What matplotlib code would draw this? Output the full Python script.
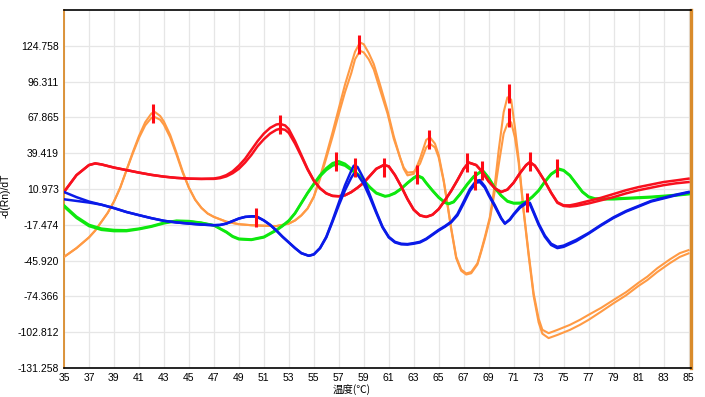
import matplotlib.pyplot as plt

# melt curve derivative, four samples, two replicates each
red_x = [35, 36, 37, 37.5, 38, 39, 40, 41, 42, 43, 44, 45, 46, 47, 47.5, 48, 48.5, 49, 49.5, 50,
         50.5, 51, 51.5, 52, 52.3, 52.7, 53, 53.5, 54, 54.5, 55, 55.5, 56, 56.5, 57, 57.5, 58, 58.5,
         59, 59.5, 60, 60.6, 61, 61.5, 62, 62.5, 63, 63.5, 64, 64.5, 65, 65.5, 66, 66.5, 67, 67.4,
         68, 68.5, 69, 69.5, 70, 70.5, 71, 71.5, 72, 72.3, 72.7, 73, 73.5, 74, 74.5, 75, 75.5, 76,
         77, 78, 79, 80, 81, 82, 83, 84, 85]
red_a = [8.6, 22, 30, 31.3, 30.5, 28, 26, 24, 22.2, 20.8, 19.8, 19.2, 19.0, 19.3, 20.2, 22, 25, 29.5, 35, 42,
         49, 55, 59.5, 62.2, 62.7, 61.5, 58.5, 49, 38, 27, 17.8, 11.5, 7.5, 5.5, 5.2, 6, 8.5, 12,
         16, 21.5, 27, 30, 29, 22, 13, 3, -5.5, -10, -11.2, -9.5, -5, 2, 9.5, 18, 27, 32,
         30, 24.5, 17, 11.5, 8.6, 10.5, 16, 23.5, 30, 32.3, 29.5, 25, 17, 8, 0.5, -2, -2, -1,
         1.5, 4, 7, 10, 12.5, 14.5, 16.5, 17.8, 19.2]
red_b = [8.6, 22, 30, 31.3, 30.5, 28, 26, 24, 22.2, 20.8, 19.8, 19.2, 19.0, 19.0, 19.6, 21, 23.5, 27, 32, 38,
         45, 50.5, 55, 58, 58.8, 58, 55.5, 47, 37, 26.5, 17.5, 11.5, 7.5, 5.5, 5.2, 6, 8.5, 12,
         16, 21.5, 27, 30, 29, 22, 13, 3, -5.5, -10, -11.2, -9.5, -5, 2, 9.5, 18, 27, 32,
         30, 24.5, 17, 11.5, 8.6, 10.5, 16, 23.5, 30, 32.3, 29.5, 25, 17, 8, 0, -2.5, -3, -2.5,
         -0.5, 2, 4.5, 7.5, 10, 12, 14, 15.5, 16.5]

blue_x = [35, 36, 37, 38, 39, 40, 41, 42, 43, 44, 45, 46, 47, 47.5, 48, 48.5, 49, 49.5, 50, 50.4,
          51, 51.5, 52, 52.5, 53, 53.5, 54, 54.6, 55, 55.5, 56, 56.5, 57, 57.5, 58, 58.2, 58.5, 59,
          59.5, 60, 60.5, 61, 61.5, 62, 62.5, 63, 63.5, 64, 64.5, 65, 65.5, 66, 66.5, 67, 67.5, 68,
          68.3, 68.7, 69, 69.5, 70, 70.3, 70.7, 71, 71.5, 72, 72.3, 72.6, 73, 73.5, 74, 74.5, 75,
          76, 77, 78, 79, 80, 81, 82, 83, 84, 85]
blue_a = [8.6, 4.5, 1.0, -1.5, -4.2, -7.3, -9.8, -12.2, -14.3, -15.6, -16.5, -17.3, -17.8, -17.6, -16.5, -14.5, -12.5, -11.2, -10.8, -10.8,
          -14, -17.5, -22, -27, -31.5, -36, -40, -42.1, -41, -36, -27, -14, 0, 14, 25.5, 29.5, 28.5, 19,
          6, -7, -19, -27, -31, -32.5, -32.8, -32, -31, -28.5, -25, -21.5, -18.5, -15, -9, 1, 11, 17.5,
          18, 13, 7, -2, -12, -16.5, -13, -9, -3, 0.5, 0, -7, -16.5, -26, -32.5, -35, -34,
          -29.5, -24, -17.5, -11.5, -6.5, -2.5, 1.5, 4, 6.5, 8.6]
blue_b = [2.8, 1.5, 0.2, -1.5, -4.2, -7.3, -9.8, -12.2, -14.3, -15.6, -16.5, -17.3, -17.8, -17.6, -16.5, -14.5, -12.5, -11.2, -10.8, -10.8,
          -14, -17.5, -22, -27, -31.5, -36, -40, -42.1, -41, -36, -27.5, -15, -2, 10, 20, 23, 22.5, 15,
          4, -8, -19.5, -27.5, -31.5, -33, -33.2, -32.5, -31.5, -29, -25.5, -22, -19, -15.5, -10, -0.5, 9.5, 16,
          16.5, 12, 6, -3, -12.5, -16.5, -13.5, -9.5, -4, -0.5, -1, -8, -17.5, -27, -33.5, -36, -35,
          -30.5, -24.5, -18, -12, -7, -3, 1, 3.5, 6, 8.3]

green_x = [35, 36, 37, 38, 39, 40, 41, 42, 43, 44, 45, 46, 47, 48, 48.5, 49, 50, 51, 52, 52.5,
           53, 53.5, 54, 54.5, 55, 55.5, 56, 56.5, 57, 57.5, 58, 58.5, 59, 59.5, 60, 60.7, 61, 61.5,
           62, 62.5, 63, 63.3, 63.7, 64, 64.5, 65, 65.5, 65.8, 66.2, 66.7, 67.3, 67.8, 68.3, 68.6, 69,
           69.5, 70, 70.5, 71, 71.5, 72, 72.5, 73, 73.5, 74, 74.6, 75, 75.5, 76, 76.5, 77, 77.5, 78,
           79, 80, 81, 82, 83, 84, 85]
green_a = [-2, -11, -17.5, -20.5, -21.6, -21.8, -20.5, -18.5, -15.8, -14.2, -14.5, -15.8, -17.8, -23, -26.5, -28.5, -29.1, -27, -21.5, -18,
           -14, -8, 0, 8, 15.2, 22, 27.5, 31.5, 33, 31, 27, 23, 18, 12.5, 8, 5.4, 5.8, 8,
           11.5, 16, 20, 21.8, 20, 16, 10, 4.5, 0.5, -0.6, 1, 7, 15.2, 21, 24.5, 25, 20,
           12, 6, 1.5, -0.1, 0, 1, 5, 10, 17, 23, 27.1, 26, 22, 15.5, 9, 5, 3.5, 3.3,
           3.3, 3.8, 4.3, 4.8, 5.5, 6.3, 7.3]
green_b = [-3, -12, -18.5, -21.5, -22.5, -22.5, -21, -19, -16.3, -14.6, -14.8, -16, -18, -23.5, -27, -29, -29.5, -27.5, -22, -18.5,
           -14.5, -8.5, -0.5, 7.5, 14.5, 21, 26, 29.5, 31, 29.5, 26, 22.5, 17.5, 12, 7.5, 5, 5.5, 7.5,
           11, 15.5, 19.5, 21.3, 19.5, 15.5, 9.5, 4, 0, -1, 0.5, 6.5, 14.5, 20.5, 24, 24.5, 19.5,
           11.5, 5.5, 1, -0.5, -0.5, 0.5, 4.5, 9.5, 16.5, 22.5, 26.5, 25.5, 21.5, 15, 8.5, 4.5, 3, 2.8,
           2.8, 3.3, 3.8, 4.3, 5, 5.8, 6.8]

orange_x = [35, 36, 37, 37.5, 38, 38.5, 39, 39.5, 40, 40.5, 41, 41.5, 42, 42.3, 42.7, 43, 43.5, 44, 44.5, 45,
            45.5, 46, 46.5, 47, 48, 49, 50, 51, 52, 53, 53.5, 54, 54.5, 55, 55.5, 56, 56.5, 57, 57.5, 58,
            58.3, 58.7, 59, 59.4, 59.8, 60.3, 60.9, 61.4, 61.9, 62.2, 62.5, 63, 63.5, 64, 64.3, 64.7, 65, 65.4,
            65.7, 66, 66.4, 66.8, 67.2, 67.6, 68.1, 68.4, 68.7, 69.1, 69.5, 69.8, 70.2, 70.5, 70.8, 71.1, 71.4,
            71.8, 72.2, 72.6, 73, 73.3, 73.8, 74.5, 75.5, 76.3, 77, 78, 79, 80, 81, 81.7, 82.5, 83.5, 84.3, 85]
orange_a = [-43, -36, -27.5, -22, -15, -8, 1, 12, 25.8, 40, 53, 64, 71, 72, 69, 64.5, 54, 40, 25, 12,
            2.5, -4, -8.5, -11.2, -15, -17, -17.8, -18.2, -18.5, -16.5, -14, -10, -4.5, 5, 20.5, 38, 56, 75, 94, 110.3,
            120, 127.4, 126, 119, 110.3, 94, 73.3, 53, 36.3, 27, 21.8, 23, 35, 50, 52, 47, 38, 18,
            -0.6, -20, -42.9, -53, -56.1, -55, -48.1, -38, -27, -11.2, 15, 41.6, 72, 83.8, 82, 60, 35,
            -5.9, -40, -71.9, -92, -100.9, -103.6, -101, -97, -93, -89, -83.5, -77.2, -71, -63.5, -58.7, -52, -45, -40, -37.6]
orange_b = [-43, -36, -27.5, -22, -15, -8, 1, 12, 25.8, 39, 51.5, 61.5, 67.5, 68, 66, 62, 52, 38.5, 24, 12,
            2.5, -4, -8.5, -11.2, -15, -17, -17.8, -18.2, -18.5, -16.5, -14, -10, -4.5, 4.5, 19, 35.5, 52.5, 70.5, 88, 103,
            114, 120.8, 119.5, 114, 106, 90, 71, 51, 36, 28, 24, 24.5, 31, 44, 46.9, 44, 36, 17,
            -1.5, -21, -44, -54, -57, -56, -49, -39, -28.5, -13, 10, 30, 55, 62.7, 64, 52, 32,
            -7, -42, -74, -95, -104, -107.5, -105, -101, -97, -93, -86.5, -79.8, -73.5, -66, -61.4, -55, -48, -43, -40.2]

# Tm markers (red ticks on peaks)
tm_x = [42.1, 50.4, 52.3, 56.8, 58.3, 58.6, 60.6, 63.3, 64.2, 67.3, 67.9, 68.5, 70.6, 70.6, 72.3, 72.1, 74.5]
tm_y = [71, -11.5, 62.2, 33, 28, 125.5, 28.4, 22.2, 50.3, 32.3, 17.8, 25.8, 86.7, 68, 32.9, 0, 27.7]

x_ticks = list(range(35, 86, 2))
y_ticks = [-131.258, -102.812, -74.366, -45.920, -17.474, 10.973, 39.419, 67.865, 96.311, 124.758]
y_top = 153.204

fig = plt.figure(figsize=(7.05, 3.97), dpi=100)
ax = fig.add_axes([64 / 705, 29 / 397, 627 / 705, 358 / 397])

lw = 1.8
for ys in (orange_a, orange_b):
    ax.plot(orange_x, ys, color="#ff9a44", lw=1.5, zorder=3)
for ys in (green_a, green_b):
    ax.plot(green_x, ys, color="#0ee80e", lw=lw, zorder=3)
for ys in (red_a, red_b):
    ax.plot(red_x, ys, color="#f8101e", lw=lw, zorder=3)
for ys in (blue_a, blue_b):
    ax.plot(blue_x, ys, color="#0a1ae8", lw=lw, zorder=3)

half = 7.5
ax.vlines(tm_x, [y - half for y in tm_y], [y + half for y in tm_y],
          color="#ff0a14", lw=2.2, zorder=5)

ax.set_xlim(35, 85.2)
ax.set_ylim(y_ticks[0], y_top)
ax.set_xticks(x_ticks)
ax.set_yticks(y_ticks)
ax.set_xticklabels([str(t) for t in x_ticks])
ax.set_yticklabels([f"{t:.3f}" for t in y_ticks])
ax.tick_params(length=0, labelsize=7.5, pad=3.5)
for lab in ax.get_xticklabels() + ax.get_yticklabels():
    lab.set_family("Liberation Sans")

ax.grid(True, color="#e6e6e6", lw=0.9)
ax.set_axisbelow(True)

ax.spines["left"].set_color("#d98b2b")
ax.spines["left"].set_linewidth(1.3)
ax.spines["right"].set_color("#d98b2b")
ax.spines["right"].set_linewidth(2.4)
ax.spines["top"].set_color("black")
ax.spines["bottom"].set_color("black")
ax.spines["top"].set_linewidth(1.2)
ax.spines["bottom"].set_linewidth(1.2)

fig.text(352 / 705, 1 - 389.5 / 397, "温度(℃)", family=["Noto Sans CJK SC", "DejaVu Sans"],
         fontsize=7.5, ha="center", va="center")
ax.set_ylabel("-d(Rn)/dT", family="Liberation Sans", fontsize=7.5)
ax.yaxis.set_label_coords(-0.085, 0.48)

fig.savefig("out.png", dpi=100)
